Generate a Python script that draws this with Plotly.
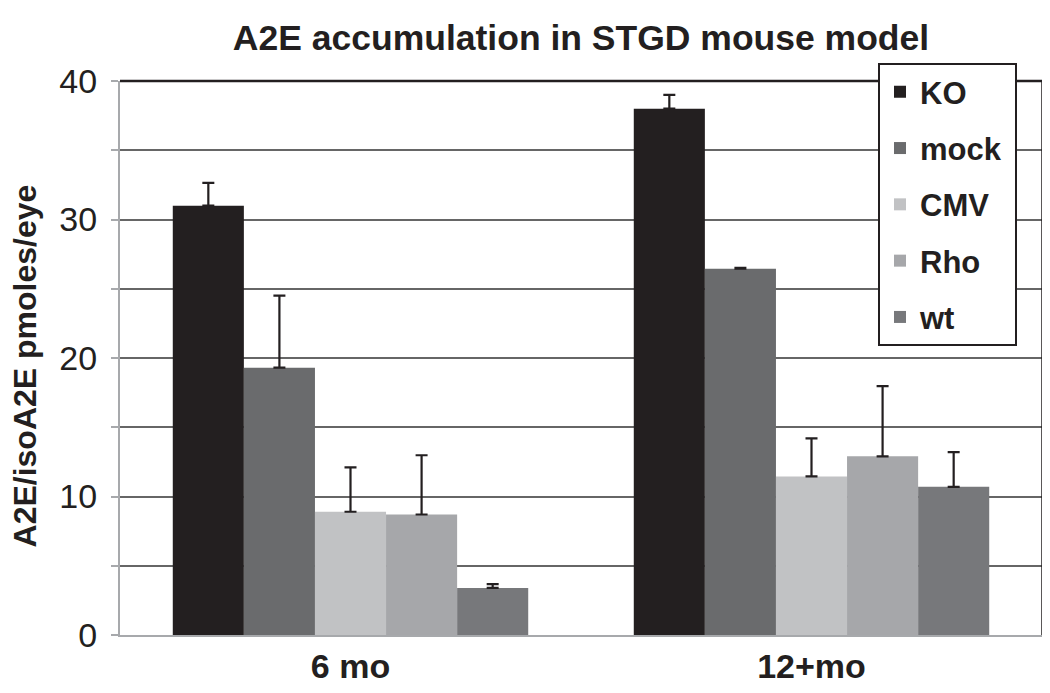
import plotly.graph_objects as go

categories = ["6 mo", "12+mo"]
series_names = ["KO", "mock", "CMV", "Rho", "wt"]
values = {
    "KO":   [31.0, 38.0],
    "mock": [19.3, 26.45],
    "CMV":  [8.9, 11.45],
    "Rho":  [8.7, 12.9],
    "wt":   [3.4, 10.7],
}
errors = {
    "KO":   [1.65, 1.0],
    "mock": [5.2, 0.06],
    "CMV":  [3.2, 2.75],
    "Rho":  [4.28, 5.07],
    "wt":   [0.27, 2.5],
}
colors = {
    "KO": "#231f20",
    "mock": "#6a6b6d",
    "CMV": "#c1c2c4",
    "Rho": "#a6a7aa",
    "wt": "#77787b",
}
y_ticks = [0, 10, 20, 30, 40]

fig = go.Figure()
for name in series_names:
    fig.add_trace(go.Bar(
        name=name + ("\u00a0" if name == "mock" else ""),
        x=categories,
        y=values[name],
        marker=dict(color=colors[name], line=dict(width=0)),
        legendgroup=name,
        error_y=dict(
            type="data", symmetric=False,
            array=errors[name], arrayminus=[0] * len(categories),
            color="#231f20", thickness=2.2, width=6,
        ),
    ))

font_family = "Liberation Sans, Arial, Helvetica, sans-serif"

# page body has an 8px margin; figure sized/positioned to compensate
W, H = 1042, 685
L, R, T, B = 112, 8, 73, 55
PW = W - L - R
PH = H - T - B

fig.update_layout(
    width=W, height=H,
    margin=dict(l=L, r=R, t=T, b=B),
    paper_bgcolor="white", plot_bgcolor="white",
    barmode="group", bargap=0.229, bargroupgap=0,
    font=dict(family=font_family, color="#231f20"),
    title=dict(
        text="<b>A2E accumulation in STGD mouse model</b>",
        x=0.5, xanchor="center", xref="paper",
        y=1 - 30 / H, yanchor="middle", yref="container",
        font=dict(size=35.5, color="#231f20"),
    ),
    legend=dict(
        x=(870 - L) / PW, xanchor="left",
        y=1 + (T - 55) / PH, yanchor="top",
        bgcolor="white", bordercolor="#231f20", borderwidth=2,
        font=dict(size=31, color="#231f20", family=font_family, weight="bold"),
        tracegroupgap=13,
        itemclick=False,
    ),
    xaxis=dict(
        showline=True, linecolor="#a7a9ac", linewidth=2,
        ticks="", tickfont=dict(size=34, color="#231f20", weight="bold"),
        showgrid=False,
    ),
    yaxis=dict(
        range=[0, 40], tickvals=y_ticks,
        showline=True, linecolor="#a7a9ac", linewidth=2,
        ticks="outside", ticklen=7, tickcolor="#a7a9ac", tickwidth=2,
        tickfont=dict(size=34, color="#231f20"),
        showgrid=True, gridcolor="#666666", gridwidth=1.5,
        minor=dict(dtick=5, showgrid=True, gridcolor="#666666", gridwidth=1.5,
                   ticks="outside", ticklen=7, tickcolor="#a7a9ac", tickwidth=2),
        zeroline=False,
        ticklabelstandoff=7,
    ),
    annotations=[dict(
        text="<b>A2E/isoA2E pmoles/eye</b>",
        textangle=-90, x=(17 - L) / PW, xref="paper",
        y=1 - (368 - 8 - T) / PH, yref="paper",
        showarrow=False, font=dict(size=32, color="#231f20"),
        xanchor="center", yanchor="middle",
    )],
    shapes=[
        dict(type="line", xref="paper", yref="paper", x0=0, x1=1, y0=1, y1=1,
             line=dict(color="#231f20", width=2.5)),
        dict(type="line", xref="paper", yref="paper", x0=1, x1=1, y0=0, y1=1,
             line=dict(color="#231f20", width=1.5)),
    ],
)

fig.write_html("out.html")
